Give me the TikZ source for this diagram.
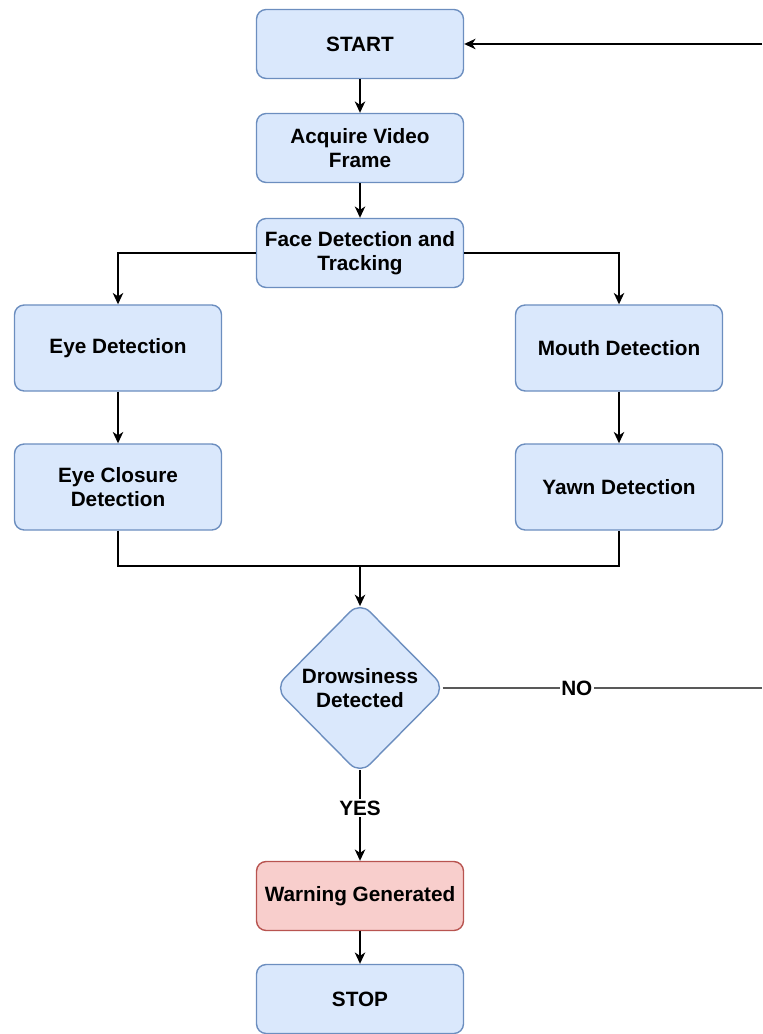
\documentclass[tikz,border=0pt]{standalone}
\usepackage{fontspec}
\setmainfont{Liberation Sans}
\usetikzlibrary{shapes.geometric,arrows.meta}

\definecolor{boxblue}{HTML}{DAE8FC}
\definecolor{lineblue}{HTML}{6C8EBF}
\definecolor{boxred}{HTML}{F8CECC}
\definecolor{linered}{HTML}{B85450}

\tikzset{
  box/.style={shape=rectangle, rounded corners=5.5pt, draw=lineblue, fill=boxblue, line width=0.8pt,
    minimum width=4.14cm, minimum height=1.38cm, align=center, font=\bfseries\fontsize{11.8}{13.6}\selectfont},
  tallbox/.style={box, minimum height=1.72cm},
  warnbox/.style={box, draw=linered, fill=boxred},
  decision/.style={shape=diamond, rounded corners=8pt, draw=lineblue, fill=boxblue, line width=0.8pt,
    inner sep=0pt, minimum width=3.42cm, minimum height=3.46cm},
  arr/.style={-{Stealth[length=6.5pt,width=6pt,inset=2pt]}, line width=0.8pt},
  tag/.style={fill=white, inner sep=1pt, font=\bfseries\fontsize{11.8}{13.6}\selectfont}
}

\begin{document}
\begin{tikzpicture}
    \useasboundingbox (0,0) rectangle (15.24,-20.68);
    \node[box](start) at (7.2,-0.88) {START};
    \node[box](acq) at (7.2,-2.96) {Acquire Video\\Frame};
    \node[box](face) at (7.2,-5.06) {Face Detection and\\Tracking};
    \node[tallbox](eye) at (2.36,-6.96) {Eye Detection};
    \node[tallbox](mouth) at (12.38,-6.96) {Mouth Detection};
    \node[tallbox](closure) at (2.36,-9.74) {Eye Closure\\Detection};
    \node[tallbox](yawn) at (12.38,-9.74) {Yawn Detection};
    \coordinate (merge) at (7.2,-11.32);
    \node[decision, label={[align=center, font=\bfseries\fontsize{11.8}{13.6}\selectfont]center:Drowsiness\\Detected}](dec) at (7.2,-13.76) {};
    \node[warnbox](warn) at (7.2,-17.92) {Warning Generated};
    \node[box](stop) at (7.2,-19.98) {STOP};
    \coordinate (noend) at (15.24,-13.76);
    \coordinate (back) at (15.24,-0.88);

    \draw[arr] (start) -- (acq);
    \draw[arr] (acq) -- (face);
    \draw[arr] (face.west) -| (eye);
    \draw[arr] (face.east) -| (mouth);
    \draw[arr] (eye) -- (closure);
    \draw[arr] (mouth) -- (yawn);
    \draw[line width=0.8pt] (closure.south) |- (merge) -| (yawn.south);
    \draw[arr] (merge) -- ([yshift=-3pt]dec.north);
    \draw[arr] ([yshift=3pt]dec.south) -- node[tag, pos=0.42] {YES} (warn);
    \draw[arr] (warn) -- (stop);
    \draw[line width=0.8pt, black!65] ([xshift=-2pt]dec.east) -- node[tag, text=black, pos=0.42] {NO} (noend);
    \draw[arr] (back) -- (start.east);
\end{tikzpicture}
\end{document}
